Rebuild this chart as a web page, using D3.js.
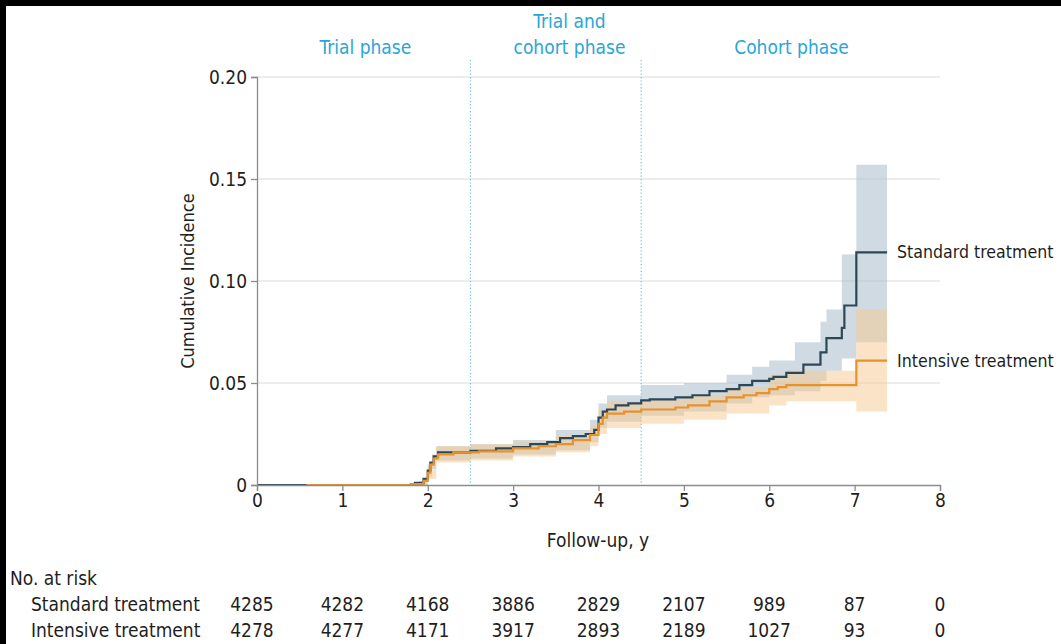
<!DOCTYPE html>
<html>
<head>
<meta charset="utf-8">
<script src="https://cdn.jsdelivr.net/npm/d3@7"></script>
<style>
  html, body { margin: 0; padding: 0; background: #fff; }
  svg { display: block; font-family: "DejaVu Sans Condensed", "DejaVu Sans", sans-serif; }
</style>
</head>
<body>
<svg id="chart" width="1061" height="644"></svg>
<script>
// cumulative incidence, step estimates (time in years)
const stdTime = [0, 1.85, 1.95, 2.0, 2.03, 2.07, 2.12, 2.5, 2.8, 3.0, 3.2, 3.4, 3.55, 3.7, 3.85, 3.95, 4.0, 4.05, 4.1, 4.2, 4.35, 4.5, 4.6, 4.9, 5.1, 5.3, 5.5, 5.65, 5.8, 6.0, 6.05, 6.2, 6.4, 6.6, 6.67, 6.85, 6.88, 7.02, 7.38];
const stdEst  = [0, 0.001, 0.003, 0.007, 0.011, 0.014, 0.016, 0.0168, 0.018, 0.0186, 0.020, 0.021, 0.023, 0.024, 0.025, 0.027, 0.033, 0.036, 0.037, 0.039, 0.040, 0.0415, 0.042, 0.043, 0.044, 0.046, 0.047, 0.049, 0.051, 0.052, 0.053, 0.055, 0.059, 0.065, 0.072, 0.077, 0.088, 0.114, 0.114];

const intTime = [0.58, 1.8, 1.95, 2.0, 2.03, 2.07, 2.12, 2.3, 2.6, 3.0, 3.3, 3.5, 3.7, 3.9, 4.0, 4.05, 4.1, 4.3, 4.5, 4.9, 5.05, 5.3, 5.5, 5.7, 5.85, 6.0, 6.1, 6.2, 7.02, 7.38];
const intEst  = [0, 0.0005, 0.002, 0.006, 0.010, 0.013, 0.015, 0.016, 0.0165, 0.018, 0.019, 0.020, 0.022, 0.0245, 0.030, 0.033, 0.035, 0.036, 0.037, 0.038, 0.039, 0.041, 0.043, 0.044, 0.045, 0.047, 0.048, 0.049, 0.061, 0.061];

// 95% confidence bands
const stdBandTime = [0, 1.9, 2.0, 2.05, 2.1, 2.5, 3.0, 3.5, 3.9, 4.0, 4.1, 4.5, 5.0, 5.5, 5.8, 6.0, 6.3, 6.6, 6.67, 6.85, 7.02, 7.38];
const stdLower    = [0, 0, 0.004, 0.008, 0.012, 0.013, 0.015, 0.017, 0.021, 0.028, 0.031, 0.034, 0.036, 0.040, 0.043, 0.044, 0.046, 0.051, 0.056, 0.062, 0.070, 0.070];
const stdUpper    = [0, 0.002, 0.010, 0.015, 0.019, 0.020, 0.022, 0.027, 0.032, 0.040, 0.044, 0.049, 0.050, 0.054, 0.058, 0.061, 0.070, 0.080, 0.086, 0.113, 0.157, 0.157];

const intBandTime = [0.58, 1.9, 2.0, 2.1, 2.5, 3.0, 3.5, 3.9, 4.0, 4.1, 4.5, 5.0, 5.5, 6.0, 6.2, 7.02, 7.38];
const intLower    = [0, 0, 0.003, 0.011, 0.012, 0.014, 0.016, 0.019, 0.025, 0.028, 0.030, 0.032, 0.035, 0.039, 0.041, 0.036, 0.036];
const intUpper    = [0, 0.001, 0.009, 0.019, 0.020, 0.021, 0.024, 0.029, 0.037, 0.041, 0.042, 0.044, 0.048, 0.054, 0.056, 0.086, 0.086];

const xTicks = [0, 1, 2, 3, 4, 5, 6, 7, 8];
const yTicks = [0, 0.05, 0.10, 0.15, 0.20];
const phaseLines = [2.5, 4.5];
const phases = [
  { x: 1.27, lines: ["Trial phase"] },
  { x: 3.66, lines: ["Trial and", "cohort phase"] },
  { x: 6.26, lines: ["Cohort phase"] }
];

const riskGroups = ["Standard treatment", "Intensive treatment"];
const riskStd = [4285, 4282, 4168, 3886, 2829, 2107, 989, 87, 0];
const riskInt = [4278, 4277, 4171, 3917, 2893, 2189, 1027, 93, 0];

const stdColor = "#2c4858";
const intColor = "#e8922c";
const phaseColor = "#2aa6d6";
const textColor = "#1e1e1e";

const svg = d3.select("#chart");
const x = d3.scaleLinear().domain([0, 8]).range([257, 940]);
const y = d3.scaleLinear().domain([0, 0.20]).range([485, 77]);

// black frame strips from the scan
svg.append("rect").attr("x", 0).attr("y", 0).attr("width", 1061).attr("height", 6).attr("fill", "#000");
svg.append("rect").attr("x", 0).attr("y", 0).attr("width", 6).attr("height", 644).attr("fill", "#000");

// gridlines
svg.append("g").selectAll("line").data(yTicks.filter(d => d > 0)).join("line")
  .attr("x1", x(0)).attr("x2", x(8))
  .attr("y1", d => y(d)).attr("y2", d => y(d))
  .attr("stroke", "#dcdcdc").attr("stroke-width", 1.2);

// phase separators
svg.append("g").selectAll("line").data(phaseLines).join("line")
  .attr("x1", d => x(d)).attr("x2", d => x(d))
  .attr("y1", 60).attr("y2", y(0))
  .attr("stroke", "#6cbfe2").attr("stroke-width", 1.2)
  .attr("stroke-dasharray", "1.2,2.2");

// phase labels
phases.forEach(p => {
  const t = svg.append("text")
    .attr("x", x(p.x)).attr("text-anchor", "middle")
    .attr("fill", phaseColor).attr("font-size", 19);
  const y0 = p.lines.length === 2 ? 28 : 54;
  p.lines.forEach((s, i) => {
    t.append("tspan").attr("x", x(p.x)).attr("y", y0 + i * 26).text(s);
  });
});

// bands
const band = (times, lo, hi) => d3.area()
  .curve(d3.curveStepAfter)
  .x((d, i) => x(times[i]))
  .y0((d, i) => y(lo[i]))
  .y1((d, i) => y(hi[i]))(times);

svg.append("path").attr("d", band(stdBandTime, stdLower, stdUpper))
  .attr("fill", "#a9bccb").attr("fill-opacity", 0.55);
svg.append("path").attr("d", band(intBandTime, intLower, intUpper))
  .attr("fill", "#f6c88d").attr("fill-opacity", 0.5);

// curves
const step = (times, vals) => d3.line()
  .curve(d3.curveStepAfter)
  .x((d, i) => x(times[i]))
  .y((d, i) => y(vals[i]))(times);

svg.append("path").attr("d", step(stdTime, stdEst))
  .attr("fill", "none").attr("stroke", stdColor).attr("stroke-width", 2.2);
svg.append("path").attr("d", step(intTime, intEst))
  .attr("fill", "none").attr("stroke", intColor).attr("stroke-width", 2.2);

// axes
const yAxis = svg.append("g").attr("transform", `translate(${x(0)},0)`)
  .call(d3.axisLeft(y).tickValues(yTicks).tickSize(6).tickPadding(4)
    .tickFormat(d => d === 0 ? "0" : d3.format(".2f")(d)));
const xAxis = svg.append("g").attr("transform", `translate(0,${y(0)})`)
  .call(d3.axisBottom(x).tickValues(xTicks).tickSize(6).tickPadding(3).tickFormat(d3.format("d")));
[yAxis, xAxis].forEach(g => {
  g.select(".domain").attr("stroke", "#8c8c8c").attr("stroke-width", 1.3);
  g.selectAll(".tick line").attr("stroke", "#8c8c8c").attr("stroke-width", 1.3);
  g.selectAll(".tick text").attr("fill", textColor).attr("font-size", 19)
    .attr("font-family", "\"DejaVu Sans Condensed\", \"DejaVu Sans\", sans-serif");
});

svg.append("text")
  .attr("transform", `translate(194,${y(0.1)}) rotate(-90)`)
  .attr("text-anchor", "middle").attr("fill", textColor).attr("font-size", 18)
  .text("Cumulative Incidence");
svg.append("text")
  .attr("x", 598).attr("y", 547)
  .attr("text-anchor", "middle").attr("fill", textColor).attr("font-size", 19)
  .text("Follow-up, y");

// line labels
svg.append("text").attr("x", 897).attr("y", y(stdEst[stdEst.length - 1]) + 6)
  .attr("fill", textColor).attr("font-size", 17.6).text("Standard treatment");
svg.append("text").attr("x", 897).attr("y", y(intEst[intEst.length - 1]) + 6)
  .attr("fill", textColor).attr("font-size", 17.6).text("Intensive treatment");

// number at risk
svg.append("text").attr("x", 10).attr("y", 585)
  .attr("fill", textColor).attr("font-size", 19).text("No. at risk");
[riskStd, riskInt].forEach((row, r) => {
  const yy = 611 + r * 26;
  svg.append("text").attr("x", 31).attr("y", yy)
    .attr("fill", textColor).attr("font-size", 19).text(riskGroups[r]);
  svg.append("g").selectAll("text").data(row).join("text")
    .attr("x", (d, i) => x(xTicks[i]) - (i === 0 ? 5 : 0)).attr("y", yy)
    .attr("text-anchor", "middle").attr("fill", textColor).attr("font-size", 19)
    .text(d => d);
});
</script>
</body>
</html>
